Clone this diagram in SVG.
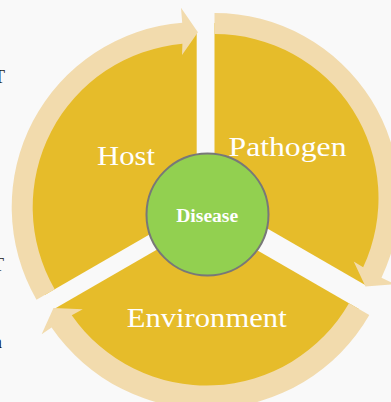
<svg xmlns="http://www.w3.org/2000/svg" width="391" height="402" viewBox="0 0 391 402">
<style>
.wedge{fill:#E6BC2A;}
.arrow{fill:#F2DBAD;}
.lbl{font-family:"Liberation Serif","Times New Roman",serif;font-size:28px;fill:#FFFFFF;text-anchor:middle;}
.frag{font-family:"Liberation Serif","Times New Roman",serif;font-size:18px;fill:#1A1A1A;}
</style>
<rect x="0" y="0" width="391" height="402" fill="#F9F9F9"/>
<g id="fragments">
<text class="frag" x="-6" y="83">T</text>
<text class="frag" x="-7" y="271">T</text>
<text class="frag" x="-7" y="348">n</text>
</g>
<g id="node-host">
<path class="wedge" d="M196.7,207.2 L45.15,294.7 A175,175 0 0,1 196.7,32.2 Z"/>
</g>
<g id="node-pathogen">
<path class="wedge" d="M214.5,198 L214.5,23 A175,175 0 0,1 366.05,285.5 Z"/>
</g>
<g id="node-environment">
<path class="wedge" d="M206.5,221 L358.92,309 A176,176 0 0,1 54.08,309 Z"/>
</g>
<g id="connectors">
<path class="arrow" d="M36.49,299.7 A185,185 0 0,1 182.18,22.77 L181.01,7.82 L197.92,32.2 L182.03,54.9 L182.41,43.82 A164,164 0 0,0 54.67,289.2 Z"/>
<path class="arrow" d="M214.5,13 A185,185 0 0,1 381.48,277.64 L395.02,284.1 L365.44,286.56 L353.72,261.45 L363.13,267.31 A164,164 0 0,0 214.5,34 Z"/>
<path class="arrow" d="M369.31,315 A188,188 0 0,1 51.56,327.49 L41.67,334.28 L53.47,307.93 L82.75,309.27 L71.75,315.35 A164.5,164.5 0 0,0 348.96,303.25 Z"/>
</g>
<g id="labels">
<text class="lbl" x="126" y="165" textLength="58" lengthAdjust="spacingAndGlyphs">Host</text>
<text class="lbl" x="287.5" y="156" textLength="118" lengthAdjust="spacingAndGlyphs">Pathogen</text>
<text class="lbl" x="206.7" y="327.3" textLength="160" lengthAdjust="spacingAndGlyphs">Environment</text>
</g>
<g id="node-disease">
<circle cx="207.5" cy="214.5" r="61" fill="#92D050" stroke="#787878" stroke-width="2"/>
<text x="207.2" y="221.7" textLength="62" lengthAdjust="spacingAndGlyphs" style="font-family:'Liberation Serif','Times New Roman',serif;font-size:18px;font-weight:bold;fill:#FFFFFF;text-anchor:middle;">Disease</text>
</g>
</svg>
